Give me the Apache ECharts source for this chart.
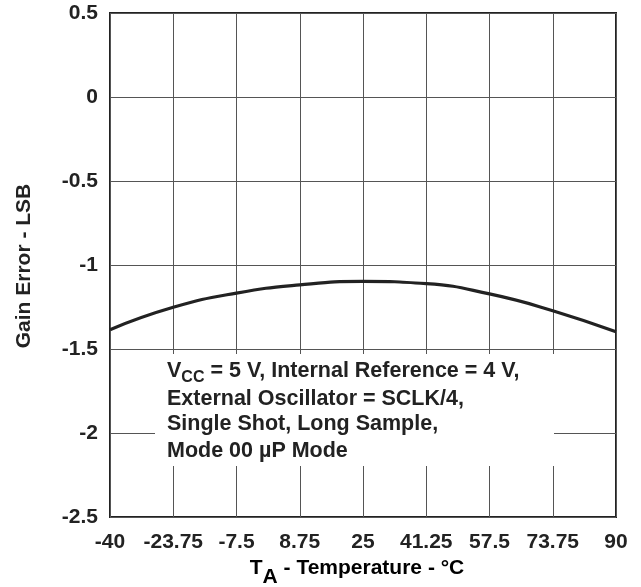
<!DOCTYPE html>
<html><head><meta charset="utf-8">
<script src="https://cdn.jsdelivr.net/npm/echarts@6/dist/echarts.min.js"></script>
<style>html,body{margin:0;padding:0;background:#fff}#c{width:641px;height:587px}</style>
</head><body><div id="c"></div>
<script>
const temperatures = [-40, -23.75, -7.5, 8.75, 25, 41.25, 57.5, 73.75, 90];
const gainError = [-1.385, -1.252, -1.167, -1.118, -1.098, -1.111, -1.172, -1.272, -1.398];
const yTicks = [-2.5, -2, -1.5, -1, -0.5, 0, 0.5];
const noteLines = [
  ['V', 'CC', ' = 5 V, Internal Reference = 4 V,'],
  ['External Oscillator = SCLK/4,'],
  ['Single Shot, Long Sample,'],
  ['Mode 00 \u00b5P Mode']
];
const xTitle = ['T', 'A', ' - Temperature - \u00b0C'];
const yTitle = 'Gain Error - LSB';

const FONT = '"Liberation Sans", Arial, Helvetica, sans-serif';
const INK = '#222';
const chart = echarts.init(document.getElementById('c'), null, {renderer: 'canvas'});
const G = {left: 110, right: 25, top: 13, bottom: 70};

function richFor(size, subSize, subPad) {
  return {
    n: {fontFamily: FONT, fontWeight: 'bold', fontSize: size, color: INK},
    s: {fontFamily: FONT, fontWeight: 'bold', fontSize: subSize, color: INK, padding: [subPad, 0, 0, 0]}
  };
}
function lineText(parts) {
  if (parts.length === 3) return '{n|' + parts[0] + '}{s|' + parts[1] + '}{n|' + parts[2] + '}';
  return '{n|' + parts[0] + '}';
}
const noteTops = [360, 388, 413, 440];
const noteGraphics = noteLines.map((p, i) => ({
  type: 'text', left: 167, top: noteTops[i], z: 20,
  style: {text: lineText(p), rich: richFor(21.5, 16, 14), fill: INK}
}));

chart.setOption({
  animation: false,
  backgroundColor: '#fff',
  grid: Object.assign({show: true, borderColor: INK, borderWidth: 2, backgroundColor: 'transparent'}, G),
  xAxis: {
    type: 'value', min: -40, max: 90, interval: 16.25,
    axisLine: {show: false}, axisTick: {show: false},
    splitLine: {show: true, lineStyle: {color: '#555', width: 1}},
    axisLabel: {color: INK, fontFamily: FONT, fontWeight: 'bold', fontSize: 21, margin: 15,
      formatter: v => String(v)}
  },
  yAxis: {
    type: 'value', min: -2.5, max: 0.5, interval: 0.5,
    axisLine: {show: false}, axisTick: {show: false},
    splitLine: {show: true, lineStyle: {color: '#555', width: 1}},
    axisLabel: {color: INK, fontFamily: FONT, fontWeight: 'bold', fontSize: 21, margin: 12,
      formatter: v => String(v)}
  },
  graphic: [
    {type: 'rect', z: 15, shape: {x: 155, y: 354, width: 399, height: 112}, style: {fill: '#fff'}},
    ...noteGraphics,
    {type: 'text', z: 20, x: 357, y: 549,
      style: {text: lineText(xTitle), rich: richFor(21, 21, 18), align: 'center', verticalAlign: 'top'}},
    {type: 'text', z: 20, x: 24, y: 266, rotation: Math.PI / 2,
      style: {text: yTitle, fontFamily: FONT, fontWeight: 'bold', fontSize: 21, fill: INK,
        align: 'center', verticalAlign: 'middle'}}
  ],
  series: [{
    type: 'line', smooth: true, showSymbol: false, z: 10,
    lineStyle: {color: INK, width: 3.2},
    data: temperatures.map((t, i) => [t, gainError[i]])
  }]
});
</script></body></html>
